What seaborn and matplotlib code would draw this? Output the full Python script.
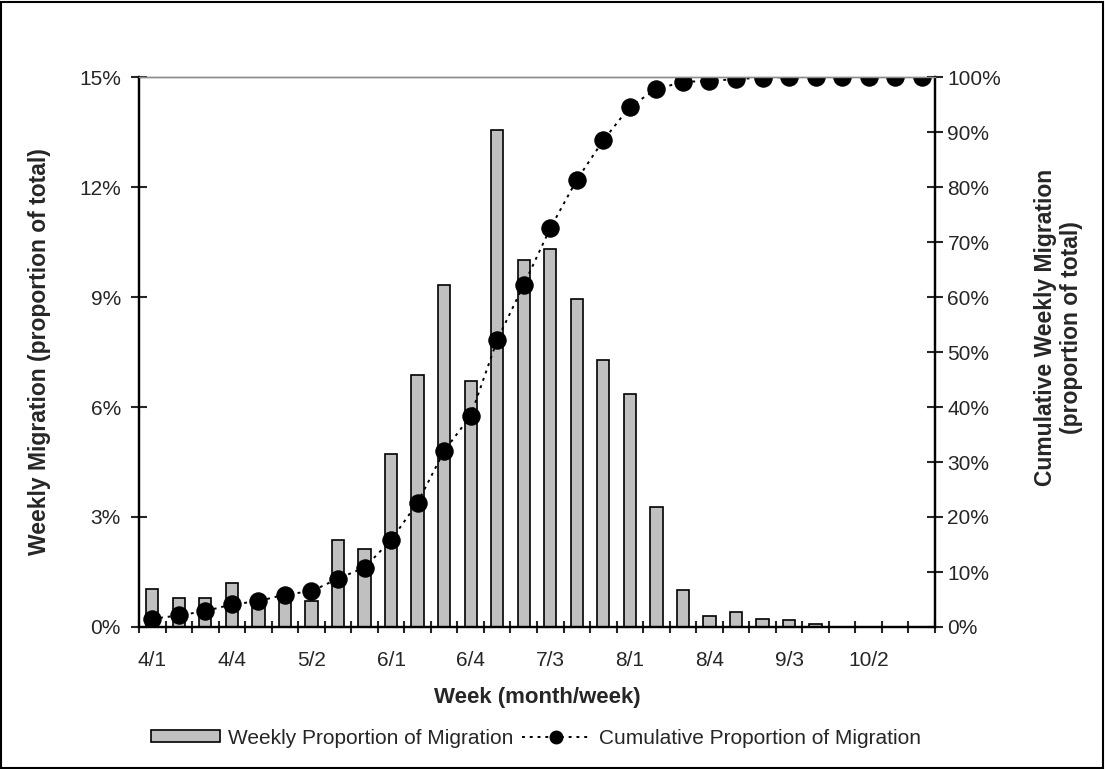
import numpy as np
import pandas as pd
import seaborn as sns
import matplotlib.pyplot as plt
from matplotlib.patches import Patch, Rectangle
from matplotlib.lines import Line2D
from matplotlib.ticker import PercentFormatter, FixedLocator

# week labels (month/week)
weeks = ['4/1', '4/2', '4/3', '4/4', '4/5', '5/1', '5/2', '5/3', '5/4',
         '6/1', '6/2', '6/3', '6/4', '7/1', '7/2', '7/3', '7/4', '7/5',
         '8/1', '8/2', '8/3', '8/4', '9/1', '9/2', '9/3', '9/4',
         '10/1', '10/2', '10/3', '10/4']

# weekly proportion of migration (%)
weekly = [1.05, 0.79, 0.79, 1.20, 0.65, 0.85, 0.71, 2.37, 2.12, 4.73,
          6.87, 9.32, 6.71, 13.55, 10.0, 10.3, 8.95, 7.28, 6.35, 3.26,
          1.0, 0.30, 0.40, 0.22, 0.18, 0.08, 0, 0, 0, 0]

# cumulative proportion of migration (%)
cumulative = [1.5, 2.1, 2.9, 4.1, 4.7, 5.9, 6.5, 8.8, 10.8, 15.8,
              22.6, 32.0, 38.4, 52.2, 62.2, 72.5, 81.3, 88.5, 94.6, 97.8,
              99.1, 99.3, 99.6, 99.9, 100, 100, 100, 100, 100, 100]

left_ticks = [0, 3, 6, 9, 12, 15]
right_ticks = [0, 10, 20, 30, 40, 50, 60, 70, 80, 90, 100]

df = pd.DataFrame({'week': weeks, 'weekly': weekly, 'cumulative': cumulative})
df['pos'] = np.arange(len(df))

sns.set_theme(style="white")
plt.rcParams['font.family'] = ['Liberation Sans', 'DejaVu Sans']

fig = plt.figure(figsize=(11.05, 7.69), dpi=100)
ax = fig.add_axes([139 / 1105, 1 - 627 / 769, 796 / 1105, 550 / 769])

# Bars
sns.barplot(data=df, x='week', y='weekly', color='#C0C0C0', saturation=1,
            edgecolor='black', linewidth=1.2, width=0.46, ax=ax)
ax.set_xlim(-0.5, len(weeks) - 0.5)
ax.set_ylim(0, 15)
ax.yaxis.set_major_locator(FixedLocator(left_ticks))
ax.yaxis.set_major_formatter(PercentFormatter(decimals=0))

# Cumulative line on the right axis
ax2 = ax.twinx()
sns.lineplot(data=df, x='pos', y='cumulative', ax=ax2, color='black',
             marker='o', markersize=12.5, markeredgecolor='black',
             linestyle=(0, (1.5, 2.5)), linewidth=1.4, errorbar=None)
ax2.set_ylim(0, 100)
ax2.set_xlim(-0.5, len(weeks) - 0.5)
ax2.yaxis.set_major_locator(FixedLocator(right_ticks))
ax2.yaxis.set_major_formatter(PercentFormatter(decimals=0))

# x ticks: labels every 3 weeks, tick marks between categories
ax.set_xticks(df['pos'][::3], labels=df['week'][::3])
ax.set_xticks(np.arange(-0.5, len(weeks)), minor=True)
ax.tick_params(axis='x', which='major', length=0, pad=17, labelsize=15)
ax.tick_params(axis='x', which='minor', length=9, width=1.5, direction='inout',
               bottom=True)
ax.tick_params(axis='y', length=12, width=1.5, direction='inout', pad=7,
               labelsize=15, left=True)
ax2.tick_params(axis='y', length=12, width=1.5, direction='inout', pad=3,
                labelsize=15, right=True)

for a in (ax, ax2):
    for s in ('left', 'right', 'bottom'):
        a.spines[s].set_color('black')
        a.spines[s].set_linewidth(1.6)
    a.spines['top'].set_color('#8c8c8c')
    a.spines['top'].set_linewidth(1.0)
    a.grid(False)

ax.set_xlabel('Week (month/week)', fontsize=16, fontweight='bold')
ax.xaxis.set_label_coords(0.5, -0.11)
ax.set_ylabel('Weekly Migration (proportion of total)', fontsize=16.5,
              fontweight='bold')
ax.yaxis.set_label_coords(-0.111, 0.5)
ax2.set_ylabel('Cumulative Weekly Migration\n(proportion of total)',
               fontsize=16.5, fontweight='bold', rotation=90)
ax2.yaxis.set_label_coords(1.124, 0.545)

# Legend
handles = [
    Patch(facecolor='#C0C0C0', edgecolor='black', linewidth=1.2),
    Line2D([], [], color='black', linestyle=(0, (1.5, 2.5)), linewidth=1.4,
           marker='o', markersize=9),
]
labels = ['Weekly Proportion of Migration', 'Cumulative Proportion of Migration']
fig.legend(handles, labels, loc='center', bbox_to_anchor=(536 / 1105, 1 - 738 / 769),
           ncol=2, frameon=False, fontsize=15, handlelength=3.3,
           handleheight=0.5, handletextpad=0.38, columnspacing=0.4)

# outer border
fig.patches.append(Rectangle((0.001, 0.001), 0.997, 0.997, transform=fig.transFigure,
                             fill=False, edgecolor='black', linewidth=1.5))

fig.savefig('out.png', dpi=100)
